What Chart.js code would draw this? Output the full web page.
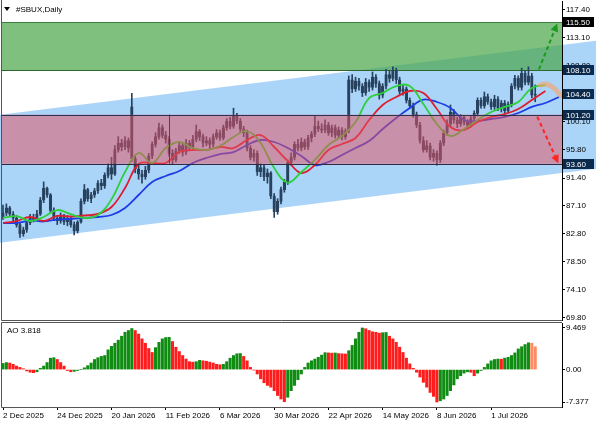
<!DOCTYPE html>
<html>
<head>
<meta charset="utf-8">
<script src="https://cdn.jsdelivr.net/npm/chart.js@4.4.1/dist/chart.umd.min.js"></script>
<style>
  html, body { margin: 0; padding: 0; background: #fff; }
  #wrap { position: relative; width: 596px; height: 425px; overflow: hidden; }
  #wrap canvas { position: absolute; left: 0; }
</style>
</head>
<body>
<div id="wrap">
  <canvas id="price" width="596" height="322" style="top:0"></canvas>
  <canvas id="ao" width="596" height="103" style="top:322px"></canvas>
</div>
<script>
// --- daily candles, one entry per bar (bar 0 = 2 Dec 2025)
const opens = [85.4,86.0,86.8,85.8,85.2,84.2,82.8,83.4,84.5,85.3,
  85.0,85.8,88.0,89.8,88.8,86.4,85.2,84.8,85.4,84.6,
  85.2,84.2,83.2,84.6,87.8,89.6,88.2,88.8,89.4,90.6,
  90.2,91.8,93.0,92.0,95.8,96.8,96.2,97.2,102.4,94.4,
  92.8,92.0,91.6,92.6,94.8,96.6,97.8,99.2,98.0,97.4,
  95.2,94.2,95.6,96.4,95.4,96.8,96.2,97.4,98.6,97.8,
  96.8,97.2,96.6,97.8,98.4,97.6,99.2,100.2,99.4,101.0,
  100.2,99.0,98.4,96.0,94.6,95.2,92.4,93.0,91.6,92.2,
  88.6,86.2,87.8,89.6,90.8,93.8,94.6,96.6,96.0,97.0,
  96.2,97.6,98.2,99.4,99.0,98.8,99.6,98.4,99.2,98.0,
  98.8,97.8,98.8,106.6,105.2,106.4,105.6,104.6,106.2,105.4,
  107.0,106.0,104.2,105.6,107.4,106.8,108.0,106.6,104.8,105.2,
  103.4,102.6,101.2,99.6,97.2,95.8,96.4,94.6,95.2,94.2,
  96.8,98.4,99.8,101.6,100.4,99.8,100.8,100.0,99.6,100.6,
  101.4,103.4,102.6,104.0,103.2,102.4,103.6,102.2,103.0,101.8,
  102.8,105.6,106.8,105.4,107.6,106.2,107.2,104.2];
const highs = [87.2,87.4,87.0,86.2,85.6,84.6,83.8,84.8,85.8,85.8,
  86.4,88.4,90.8,90.0,89.0,86.8,85.6,86.0,85.8,85.6,
  85.4,84.6,84.8,88.2,90.4,89.8,89.2,89.8,91.0,91.2,
  92.2,93.6,94.6,96.4,97.8,97.4,97.8,97.6,104.5,94.8,
  93.4,92.6,93.2,95.2,97.0,98.4,99.9,99.6,98.6,97.8,
  95.8,96.0,97.0,96.8,97.4,97.2,98.0,99.6,98.9,98.2,
  97.8,97.6,98.2,98.9,98.8,99.6,100.6,100.8,102.2,101.4,
  100.6,99.4,98.8,96.4,95.8,95.6,93.6,93.4,92.8,92.4,
  89.0,88.2,90.0,91.2,94.2,95.3,97.0,97.4,97.6,97.4,
  98.0,98.6,101.1,100.2,99.8,100.4,100.0,99.6,99.6,99.3,
  99.2,99.0,107.2,107.4,107.0,106.8,106.0,106.8,106.6,107.8,
  107.4,106.4,106.0,108.2,108.0,108.6,108.4,107.0,105.8,105.5,
  103.8,103.0,101.6,100.0,97.8,97.2,96.8,95.8,95.6,97.2,
  98.8,100.4,102.7,102.0,100.8,101.2,101.1,100.4,101.0,101.8,
  103.8,103.8,104.7,104.4,103.6,104.2,104.0,103.4,103.4,103.2,
  106.0,107.3,107.2,108.4,108.0,108.6,107.6,105.8];
const lows = [85.0,85.6,85.4,84.8,83.8,82.2,82.4,83.0,84.2,84.6,
  84.8,85.6,87.6,88.4,86.0,84.8,84.2,84.4,84.2,84.0,
  83.8,82.6,82.9,84.4,87.4,87.8,87.6,88.4,89.0,89.6,
  89.8,91.4,91.2,91.8,95.4,95.6,95.8,95.4,94.0,92.2,
  91.2,90.6,91.2,92.2,94.4,96.2,97.4,97.6,96.8,94.8,
  93.6,93.9,95.2,94.8,95.0,95.6,95.8,97.0,97.2,96.2,
  96.4,96.0,96.2,97.4,97.2,97.3,98.8,99.0,99.1,99.8,
  98.6,97.8,95.6,94.2,94.0,91.8,91.6,91.0,90.6,88.2,
  85.3,85.8,87.4,89.2,90.4,93.4,94.2,95.6,95.6,95.8,
  95.8,97.0,97.8,98.6,98.4,98.4,98.0,97.8,97.6,97.6,
  97.3,97.4,98.4,104.6,104.8,105.0,104.0,104.2,104.8,105.0,
  105.4,103.6,103.8,105.2,106.2,106.4,106.0,104.4,104.2,103.0,
  102.2,100.8,99.2,96.8,95.4,95.4,94.2,94.0,93.4,93.8,
  96.4,98.0,99.4,99.9,99.2,99.4,99.6,99.2,99.3,100.2,
  101.0,102.2,102.2,102.8,102.0,102.0,101.8,101.6,101.4,101.5,
  102.4,105.2,105.0,105.0,105.8,105.8,103.8,103.2];
const closes = [86.0,86.8,85.8,85.2,84.2,82.8,83.4,84.5,85.3,85.0,
  85.8,88.0,89.8,88.8,86.4,85.2,84.8,85.4,84.6,85.2,
  84.2,83.2,84.6,87.8,89.6,88.2,88.8,89.4,90.6,90.2,
  91.8,93.0,92.0,95.8,96.8,96.2,97.2,96.0,94.4,92.8,
  92.0,91.6,92.6,94.8,96.6,97.8,99.2,98.0,97.4,95.2,
  94.2,95.6,96.4,95.4,96.8,96.2,97.4,98.6,97.8,96.8,
  97.2,96.6,97.8,98.4,97.6,99.2,100.2,99.4,101.0,100.2,
  99.0,98.4,96.0,94.6,95.2,92.4,93.0,91.6,92.2,88.6,
  86.2,87.8,89.6,90.8,93.8,94.6,96.6,96.0,97.0,96.2,
  97.6,98.2,99.4,99.0,98.8,99.6,98.4,99.2,98.0,98.8,
  97.8,98.6,106.6,105.2,106.4,105.6,104.6,106.2,105.4,107.0,
  106.0,104.2,105.6,107.4,106.8,108.0,106.6,104.8,105.2,103.4,
  102.6,101.2,99.6,97.2,95.8,96.4,94.6,95.2,94.2,96.8,
  98.4,99.8,101.6,100.4,99.8,100.8,100.0,99.6,100.6,101.4,
  103.4,102.6,104.0,103.2,102.4,103.6,102.2,103.0,101.8,102.8,
  105.6,106.8,105.4,107.6,106.2,107.2,104.2,104.4];

// --- Alligator lines, read every 4th bar (bar = 4*k), shifted forward
const lipsEvery4 = [85.22,85.5,84.75,85.37,86.45,85.8,85.22,85.68,88.1,92.33,
  95.27,93.72,96.04,96.97,96.04,95.73,96.35,97.74,98.67,96.81,
  92.95,90.7,92.33,94.19,96.51,97.9,100.06,103.77,104.55,105.63,
  105.63,102.85,99.76,97.9,98.98,100.37,101.61,102.39,103.16,105.32,105.79];
const teethEvery4 = [84.44,84.75,85.37,84.75,85.53,85.45,85.6,85.84,86.92,89.86,
  93.57,93.72,93.72,95.42,95.73,95.73,96.2,96.04,97.28,98.05,
  96.2,94.04,92.17,93.41,95.73,96.66,97.59,100.37,102.7,103.93,
  104.86,104.55,102.08,99.28,98.82,100.06,100.84,101.3,102.08,103.47,104.86];
const jawsEvery4 = [84.44,84.44,84.83,84.68,84.98,85.06,85.22,85.37,85.68,86.77,
  88.77,90.78,91.71,92.48,93.72,94.5,95.11,95.42,96.51,97.28,
  96.97,96.04,94.81,93.41,93.88,94.96,96.04,97.12,98.98,100.68,
  102.24,103.54,103.16,102.24,100.37,100.22,100.53,100.84,101.46,102.39,103.0,103.93];

// forecast highlight at the end of the lines
const fcBars = [158.5, 160.5, 162.5, 164.5];
const fcValues = [105.8, 105.9, 105.3, 104.2];

// --- Awesome Oscillator, one per bar
const ao = [1.4,1.6,1.5,1.2,0.8,0.5,0.2,-0.3,-0.6,-0.7,
  -0.5,0.3,0.8,1.6,2.6,2.7,2.3,1.6,0.8,-0.2,
  -0.5,-0.4,-0.2,0.0,0.4,0.9,1.5,2.3,2.7,3.0,
  3.2,4.5,5.3,6.0,6.7,7.6,8.5,8.9,9.35,8.9,
  8.1,7.0,6.0,4.8,3.9,5.0,6.2,7.0,7.3,7.35,
  6.4,5.1,4.1,3.2,2.4,1.8,1.7,1.8,2.1,2.0,
  1.9,1.7,1.5,1.2,1.1,1.2,1.8,2.6,3.2,3.6,
  3.65,3.0,2.0,0.5,-0.1,-1.0,-2.1,-3.0,-3.6,-4.0,
  -4.8,-5.9,-6.7,-7.3,-6.3,-4.8,-3.6,-2.3,-1.0,0.5,
  1.5,2.0,2.4,2.8,3.3,3.85,3.8,3.75,3.78,3.65,
  3.6,3.55,4.3,5.5,7.0,8.5,9.469,9.3,8.9,8.6,
  8.5,8.3,8.4,8.45,7.6,7.0,6.2,5.1,3.9,2.6,
  1.3,0.3,-0.6,-1.7,-2.9,-4.0,-5.2,-6.1,-7.377,-7.1,
  -6.7,-5.9,-4.8,-3.5,-2.1,-1.4,-0.8,-0.5,-0.6,-1.4,
  -0.8,-0.2,0.5,1.3,2.0,2.3,2.4,2.35,2.6,2.8,
  3.2,3.8,4.7,5.2,5.7,6.1,6.0,5.2];

// --- axes
const dateTickBars = [0, 16, 32, 48, 64, 80, 96, 112, 128, 144];
const dateLabels = ['2 Dec 2025', '24 Dec 2025', '20 Jan 2026', '11 Feb 2026', '6 Mar 2026',
  '30 Mar 2026', '22 Apr 2026', '14 May 2026', '8 Jun 2026', '1 Jul 2026'];
const priceTicks = [117.4, 113.1, 108.8, 104.4, 100.1, 95.8, 91.4, 87.1, 82.8, 78.5, 74.1, 69.8];
const aoTicks = [9.469, 0, -7.377];
const aoTickLabels = ['9.469', '0.00', '-7.377'];

// --- drawn objects (price levels)
const buyZone = [108.1, 115.5];
const sellZone = [93.6, 101.2];
const sellZoneSplitBar = 49;
const channelBars = [0, 160];
const channelTop = [101.24, 111.66];
const channelBottom = [81.44, 91.86];
const upArrow = [158.1, 108.2, 163.5, 115.3];
const downArrow = [157.6, 100.9, 163.8, 93.7];
const levelBoxes = [115.5, 108.1, 104.4, 101.2, 93.6];
const levelBoxColors = ['#000000', '#0c2b4c', '#0c2b4c', '#0c2b4c', '#0c2b4c'];

const X_MIN = -0.295, X_MAX = 164.9;
const FONT = 'Liberation Sans, Arial, sans-serif';
Chart.defaults.font.family = FONT;
Chart.defaults.font.size = 8;
Chart.defaults.color = '#000';

const CANDLE = '#27415e';
const fitRight = s => { s.width = 34; s.paddingTop = 0; s.paddingBottom = 0; };

function every4(vals) { return vals.map((v, k) => ({ x: k * 4, y: v })); }

function arrow(ctx, x0, y0, x1, y1, color) {
  const ang = Math.atan2(y1 - y0, x1 - x0), head = 8;
  const bx = x1 - Math.cos(ang) * head, by = y1 - Math.sin(ang) * head;
  ctx.save();
  ctx.strokeStyle = color; ctx.fillStyle = color; ctx.lineWidth = 2;
  ctx.setLineDash([4, 3]);
  ctx.beginPath(); ctx.moveTo(x0, y0); ctx.lineTo(bx, by); ctx.stroke();
  ctx.setLineDash([]);
  ctx.beginPath(); ctx.moveTo(x1, y1);
  ctx.lineTo(bx + Math.sin(ang) * 4, by - Math.cos(ang) * 4);
  ctx.lineTo(bx - Math.sin(ang) * 4, by + Math.cos(ang) * 4);
  ctx.closePath(); ctx.fill();
  ctx.restore();
}

const zones = {
  id: 'zones',
  beforeDraw(chart) {
    const { ctx, chartArea: a, scales: { x, y } } = chart;
    const x0 = x.getPixelForValue(channelBars[0]), x1 = x.getPixelForValue(channelBars[1]);
    const at = (vals, X) => {
      const y0 = y.getPixelForValue(vals[0]), y1 = y.getPixelForValue(vals[1]);
      return y0 + (y1 - y0) * (X - x0) / (x1 - x0);
    };
    ctx.save();
    ctx.beginPath(); ctx.rect(0, 0, chart.width, a.bottom); ctx.clip();
    ctx.fillStyle = '#aad4f8';
    ctx.beginPath();
    ctx.moveTo(0, at(channelTop, 0));
    ctx.lineTo(chart.width, at(channelTop, chart.width));
    ctx.lineTo(chart.width, at(channelBottom, chart.width));
    ctx.lineTo(0, at(channelBottom, 0));
    ctx.closePath(); ctx.fill();
    ctx.restore();

    const gTop = y.getPixelForValue(buyZone[1]), gBot = y.getPixelForValue(buyZone[0]);
    ctx.save();
    ctx.fillStyle = 'rgba(73,165,73,0.7)';
    ctx.fillRect(a.left, gTop, a.right - a.left, gBot - gTop);
    ctx.lineWidth = 1;
    ctx.strokeStyle = '#3d7d3d';
    ctx.beginPath(); ctx.moveTo(a.left, Math.round(gTop) + 0.5); ctx.lineTo(a.right, Math.round(gTop) + 0.5); ctx.stroke();
    ctx.strokeStyle = '#2c662c';
    ctx.beginPath(); ctx.moveTo(a.left, Math.round(gBot) + 0.5); ctx.lineTo(a.right, Math.round(gBot) + 0.5); ctx.stroke();
    ctx.restore();
  },
  afterDatasetsDraw(chart) {
    const { ctx, chartArea: a, scales: { x, y } } = chart;
    const pTop = y.getPixelForValue(sellZone[1]), pBot = y.getPixelForValue(sellZone[0]);
    ctx.save();
    ctx.fillStyle = 'rgba(229,84,101,0.53)';
    ctx.fillRect(a.left, pTop, a.right - a.left, pBot - pTop);
    ctx.lineWidth = 1;
    ctx.strokeStyle = '#2b3350';
    ctx.beginPath(); ctx.moveTo(a.left, Math.round(pTop) + 0.5); ctx.lineTo(a.right, Math.round(pTop) + 0.5); ctx.stroke();
    ctx.strokeStyle = '#33283f';
    ctx.beginPath(); ctx.moveTo(a.left, Math.round(pBot) + 0.5); ctx.lineTo(a.right, Math.round(pBot) + 0.5); ctx.stroke();
    const sx = Math.round(x.getPixelForValue(sellZoneSplitBar)) + 0.5;
    ctx.strokeStyle = 'rgba(70,40,60,0.8)';
    ctx.beginPath(); ctx.moveTo(sx, pTop); ctx.lineTo(sx, pBot); ctx.stroke();
    ctx.restore();
  },
  afterDraw(chart) {
    const { ctx, chartArea: a, scales: { x, y } } = chart;
    const P = (b, v) => [x.getPixelForValue(b), y.getPixelForValue(v)];
    let s = P(upArrow[0], upArrow[1]), e = P(upArrow[2], upArrow[3]);
    arrow(ctx, s[0], s[1], e[0], e[1], '#1d9a1d');
    s = P(downArrow[0], downArrow[1]); e = P(downArrow[2], downArrow[3]);
    arrow(ctx, s[0], s[1], e[0], e[1], '#ff2424');

    ctx.save();
    ctx.font = '8px ' + FONT;
    ctx.textBaseline = 'middle';
    ctx.textAlign = 'left';
    levelBoxes.forEach((v, i) => {
      const yc = Math.round(y.getPixelForValue(v));
      ctx.fillStyle = levelBoxColors[i];
      ctx.fillRect(a.right + 1, yc - 5, 31, 10);
      ctx.fillStyle = '#fff';
      ctx.fillText(v.toFixed(2), a.right + 4, yc + 0.5);
    });

    // frame
    ctx.strokeStyle = '#555';
    ctx.lineWidth = 1;
    ctx.beginPath();
    ctx.moveTo(a.left - 0.5, 0); ctx.lineTo(a.left - 0.5, a.bottom + 0.5); ctx.lineTo(a.right, a.bottom + 0.5);
    ctx.stroke();

    // title
    ctx.fillStyle = '#000';
    ctx.beginPath(); ctx.moveTo(4, 7); ctx.lineTo(10, 7); ctx.lineTo(7, 11); ctx.closePath(); ctx.fill();
    ctx.fillText('#SBUX,Daily', 16, 9.5);
    ctx.restore();
  }
};

new Chart(document.getElementById('price'), {
  type: 'bar',
  data: {
    datasets: [
      { type: 'line', data: fcBars.map((b, i) => ({ x: b, y: fcValues[i] })),
        borderColor: 'rgba(255,160,100,0.6)', borderWidth: 5, pointRadius: 0, tension: 0.4,
        borderCapStyle: 'round' },
      { type: 'line', data: every4(lipsEvery4), borderColor: '#2fcf3a', borderWidth: 1.8, pointRadius: 0, tension: 0.4 },
      { type: 'line', data: every4(teethEvery4), borderColor: '#dc1e2e', borderWidth: 1.8, pointRadius: 0, tension: 0.4 },
      { type: 'line', data: every4(jawsEvery4), borderColor: '#1e3ce6', borderWidth: 1.8, pointRadius: 0, tension: 0.4 },
      { data: opens.map((o, i) => ({ x: i, y: [o, closes[i]] })),
        grouped: false, barThickness: 2.6, borderWidth: 1, borderSkipped: false,
        borderColor: CANDLE,
        backgroundColor: c => closes[c.dataIndex] >= opens[c.dataIndex] ? 'rgba(0,0,0,0)' : CANDLE },
      { data: highs.map((h, i) => ({ x: i, y: [lows[i], h] })),
        grouped: false, barThickness: 1, borderWidth: 0, backgroundColor: CANDLE }
    ]
  },
  options: {
    responsive: false, animation: false, devicePixelRatio: 1,
    layout: { padding: { left: 2, right: 0, top: 1, bottom: 2 } },
    plugins: { legend: { display: false }, tooltip: { enabled: false } },
    scales: {
      x: { type: 'linear', min: X_MIN, max: X_MAX, display: false, offset: false },
      y: {
        type: 'linear', position: 'right', min: 69.44, max: 118.78,
        afterFit: fitRight,
        afterBuildTicks: s => { s.ticks = priceTicks.map(v => ({ value: v })); },
        ticks: { callback: v => v.toFixed(2), padding: 1, autoSkip: false, font: { size: 8 } },
        grid: { drawOnChartArea: false, drawTicks: true, tickLength: 3, color: '#000' },
        border: { display: true, color: '#000' }
      }
    }
  },
  plugins: [zones]
});

const aoFrame = {
  id: 'aoFrame',
  afterDraw(chart) {
    const { ctx, chartArea: a } = chart;
    ctx.save();
    ctx.strokeStyle = '#555';
    ctx.lineWidth = 1;
    ctx.beginPath();
    ctx.moveTo(a.right, a.top - 0.5); ctx.lineTo(a.left - 0.5, a.top - 0.5);
    ctx.lineTo(a.left - 0.5, a.bottom + 0.5); ctx.lineTo(a.right, a.bottom + 0.5);
    ctx.stroke();
    ctx.fillStyle = '#000';
    ctx.font = '8px ' + FONT;
    ctx.textBaseline = 'middle';
    ctx.fillText('AO 3.818', 7, a.top + 8);
    ctx.restore();
  }
};

const AO_UP = '#0f8c12', AO_DOWN = '#ff1c1c';
new Chart(document.getElementById('ao'), {
  type: 'bar',
  data: {
    datasets: [{
      data: ao.map((v, i) => ({ x: i, y: v })),
      grouped: false, barThickness: 2.4, borderWidth: 0,
      backgroundColor: c => {
        const i = c.dataIndex;
        if (i >= ao.length - 2) return 'rgba(255,110,60,0.8)';
        return i === 0 || ao[i] >= ao[i - 1] ? AO_UP : AO_DOWN;
      }
    }]
  },
  options: {
    responsive: false, animation: false, devicePixelRatio: 1,
    layout: { padding: { left: 2, right: 0, top: 1, bottom: 0 } },
    plugins: { legend: { display: false }, tooltip: { enabled: false } },
    scales: {
      x: {
        type: 'linear', min: X_MIN, max: X_MAX, offset: false,
        afterFit: s => { s.height = 18; s.paddingLeft = 0; s.paddingRight = 0; },
        afterBuildTicks: s => { s.ticks = dateTickBars.map(v => ({ value: v })); },
        ticks: { callback: (v, i) => dateLabels[i], align: 'start', maxRotation: 0, autoSkip: false, padding: 1 },
        grid: { drawOnChartArea: false, drawTicks: true, tickLength: 3, color: '#000', offset: false },
        border: { display: false }
      },
      y: {
        type: 'linear', position: 'right', min: -8.515, max: 10.607,
        afterFit: fitRight,
        afterBuildTicks: s => { s.ticks = aoTicks.map(v => ({ value: v })); },
        ticks: { callback: (v, i) => aoTickLabels[i], padding: 1, autoSkip: false },
        grid: { drawOnChartArea: false, drawTicks: true, tickLength: 3, color: '#000' },
        border: { display: true, color: '#000' }
      }
    }
  },
  plugins: [aoFrame]
});
</script>
</body>
</html>
